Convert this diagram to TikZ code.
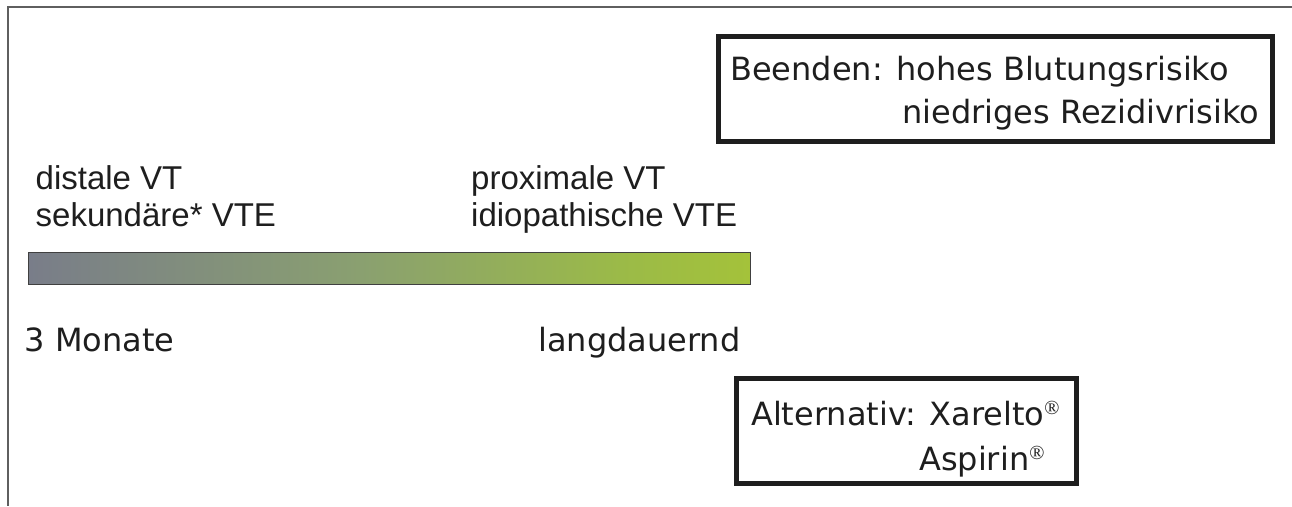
\documentclass[tikz,border=0pt]{standalone}
\usepackage{fontspec}
\setmainfont{DejaVu Sans}
\newfontfamily\arialf{Liberation Sans}
\newfontfamily\serifreg{Liberation Serif}
\definecolor{framegray}{RGB}{95,95,95}
\definecolor{inkc}{RGB}{30,30,30}
\definecolor{barL}{RGB}{121,125,137}
\definecolor{barM}{RGB}{138,160,112}
\definecolor{barR2}{RGB}{155,186,72}
\definecolor{barR}{RGB}{164,194,58}
\pgfdeclarehorizontalshading{vtbar}{100bp}{color(0bp)=(barL); color(25bp)=(barL); color(48bp)=(barM); color(66bp)=(barR2); color(75bp)=(barR); color(100bp)=(barR)}
\newcommand{\regm}{\raisebox{0.62ex}{\serifreg\fontsize{20}{20}\selectfont ®}}
\tikzset{
  framestyle/.style={draw=framegray, line width=2pt},
  boxstyle/.style={draw=inkc, line width=5pt, rectangle, inner sep=0pt, anchor=north west},
  barstyle/.style={draw=black!75, line width=1.5pt, shading=vtbar, rectangle, inner sep=0pt, anchor=north west},
  tahtext/.style={anchor=base west, inner sep=0pt, text=inkc, font=\fontsize{32}{32}\selectfont},
  arltext/.style={anchor=base west, inner sep=0pt, text=inkc, font=\arialf\fontsize{33}{33}\selectfont}
}
\begin{document}
\begin{tikzpicture}[x=1pt,y=-1pt]
\useasboundingbox (0,0) rectangle (1292,506);
\fill[white] (0,0) rectangle (1292,506);
% frame
\coordinate (ftr) at (1292,7);
\coordinate (ftl) at (8,7);
\coordinate (fbl) at (8,506);
\draw[framestyle] (ftr) -- (ftl) -- (fbl);
% bar
\node[barstyle, minimum width=722pt, minimum height=32pt] (bar) at (27.5,251.5) {};
% boxes
\node[boxstyle, minimum width=554pt, minimum height=105pt] (box1) at (716,34) {};
\node[boxstyle, minimum width=340pt, minimum height=105pt] (box2) at (734,376) {};
% box texts
\node[tahtext] (b1a) at (730,80) {Beenden: hohes Blutungsrisiko};
\node[tahtext] (b1b) at (902,123) {niedriges Rezidivrisiko};
\node[tahtext] (b2a) at (751,425) {Alternativ: Xarelto\regm};
\node[tahtext] (b2b) at (919,470) {Aspirin\regm};
% labels above bar
\node[arltext] (l1a) at (35.5,189) {distale VT};
\node[arltext] (l1b) at (35.5,226) {sekundäre* VTE};
\node[arltext] (l2a) at (471,189) {proximale VT};
\node[arltext] (l2b) at (471,226) {idiopathische VTE};
% labels below bar
\node[tahtext] (m1) at (24.5,351) {3 Monate};
\node[tahtext] (m2) at (538,351) {langdauernd};
\end{tikzpicture}
\end{document}
